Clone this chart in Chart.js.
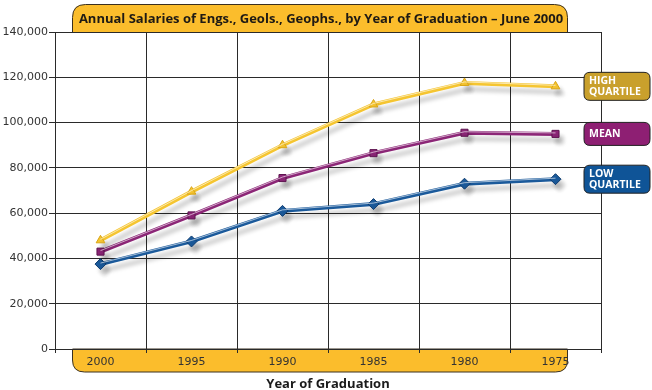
<!DOCTYPE html>
<html>
<head>
<meta charset="utf-8">
<script src="https://cdn.jsdelivr.net/npm/chart.js@4/dist/chart.umd.min.js"></script>
<style>
  html, body { margin: 0; padding: 0; background: #fff; }
  #wrap { width: 652px; height: 390px; position: relative; }
</style>
</head>
<body>
<div id="wrap"><canvas id="salaryChart" width="652" height="390"></canvas></div>
<script>
const chartTitle = 'Annual Salaries of Engs., Geols., Geophs., by Year of Graduation \u2013 June 2000';
const xTitle = 'Year of Graduation';
const years = ['2000', '1995', '1990', '1985', '1980', '1975'];
const highQuartile = [48000, 69500, 90000, 108000, 117500, 116000];
const mean = [43000, 59000, 75500, 86500, 95500, 95000];
const lowQuartile = [37500, 47500, 61000, 64000, 73000, 75000];
const seriesNames = [['HIGH', 'QUARTILE'], ['MEAN'], ['LOW', 'QUARTILE']];

const yellow = '#fbbd2c';
const lineColors = ['#f5c531', '#8c2677', '#1b5a9b'];
const boxColors = ['#c9a02c', '#8e1f73', '#0f5497'];

function roundedPath(ctx, x, y, w, h, r) {
  // r = [tl, tr, br, bl]
  ctx.beginPath();
  ctx.moveTo(x + r[0], y);
  ctx.lineTo(x + w - r[1], y);
  ctx.quadraticCurveTo(x + w, y, x + w, y + r[1]);
  ctx.lineTo(x + w, y + h - r[2]);
  ctx.quadraticCurveTo(x + w, y + h, x + w - r[2], y + h);
  ctx.lineTo(x + r[3], y + h);
  ctx.quadraticCurveTo(x, y + h, x, y + h - r[3]);
  ctx.lineTo(x, y + r[0]);
  ctx.quadraticCurveTo(x, y, x + r[0], y);
  ctx.closePath();
}

// title banner and year band behind the chart
const decorPlugin = {
  id: 'decor',
  beforeDraw(chart) {
    const ctx = chart.ctx;
    const a = chart.chartArea;
    ctx.save();
    ctx.fillStyle = yellow;
    ctx.strokeStyle = '#3a3020';
    ctx.lineWidth = 1;
    roundedPath(ctx, 72.5, 4.5, 495, a.top - 4, [13, 13, 0, 0]);
    ctx.fill();
    ctx.stroke();
    roundedPath(ctx, 72.5, a.bottom, 495, 23, [0, 0, 12, 12]);
    ctx.fill();
    ctx.stroke();
    ctx.fillStyle = '#1e1a14';
    ctx.font = 'bold 13px "Open Sans"';
    ctx.textAlign = 'center';
    ctx.textBaseline = 'middle';
    ctx.fillText(chartTitle, 321, 19);
    ctx.restore();
  },
  beforeDatasetDraw(chart) {
    const ctx = chart.ctx;
    ctx.save();
    ctx.shadowColor = 'rgba(0,0,0,0.22)';
    ctx.shadowOffsetX = 4;
    ctx.shadowOffsetY = 6;
    ctx.shadowBlur = 4;
  },
  afterDatasetDraw(chart) {
    chart.ctx.restore();
  },
  afterDatasetsDraw(chart) {
    const ctx = chart.ctx;
    ctx.save();
    ctx.strokeStyle = 'rgba(255,255,255,0.6)';
    ctx.lineWidth = 1;
    chart.data.datasets.forEach((ds, i) => {
      const pts = chart.getDatasetMeta(i).data;
      ctx.beginPath();
      pts.forEach((p, j) => {
        if (j === 0) ctx.moveTo(p.x, p.y - 1);
        else ctx.lineTo(p.x, p.y - 1);
      });
      ctx.stroke();
    });
    ctx.restore();
  },
  afterDraw(chart) {
    const ctx = chart.ctx;
    const y = chart.scales.y;
    ctx.save();
    chart.data.datasets.forEach((ds, i) => {
      const cy = y.getPixelForValue(ds.data[ds.data.length - 1]);
      const lines = seriesNames[i];
      const h = lines.length > 1 ? 28 : 23;
      const x0 = 584, w = 66;
      roundedPath(ctx, x0, cy - h / 2, w, h, [6, 6, 6, 6]);
      ctx.fillStyle = boxColors[i];
      ctx.fill();
      ctx.strokeStyle = '#222';
      ctx.lineWidth = 1;
      ctx.stroke();
      ctx.fillStyle = '#fff';
      ctx.font = 'bold 10.5px "Open Sans"';
      ctx.textAlign = 'left';
      ctx.textBaseline = 'middle';
      lines.forEach((t, k) => {
        ctx.fillText(t, x0 + 5, cy + (k - (lines.length - 1) / 2) * 11);
      });
    });
    ctx.restore();
  }
};

new Chart(document.getElementById('salaryChart'), {
  type: 'line',
  data: {
    labels: years,
    datasets: [
      { label: 'High Quartile', data: highQuartile, borderColor: lineColors[0], backgroundColor: lineColors[0],
        pointStyle: 'triangle', pointRadius: 5, pointBorderColor: '#d9a516' },
      { label: 'Mean', data: mean, borderColor: lineColors[1], backgroundColor: lineColors[1],
        pointStyle: 'rect', pointRadius: 5, pointBorderColor: '#5e1450' },
      { label: 'Low Quartile', data: lowQuartile, borderColor: lineColors[2], backgroundColor: lineColors[2],
        pointStyle: 'rectRot', pointRadius: 5.5, pointBorderColor: '#0c3a6e' }
    ].map(d => Object.assign(d, { borderWidth: 4, tension: 0, pointBorderWidth: 1 }))
  },
  options: {
    responsive: false,
    animation: false,
    layout: { padding: { top: 32, right: 51, left: 0, bottom: 0 } },
    plugins: { legend: { display: false }, title: { display: false }, tooltip: { enabled: false } },
    scales: {
      x: {
        offset: true,
        grid: { color: '#2a2a2a', lineWidth: 1, tickLength: 4, offset: true },
        border: { color: '#2a2a2a', width: 1 },
        ticks: { color: '#333', font: { family: 'DejaVu Sans', size: 11 }, padding: 3 },
        title: { display: true, text: xTitle, color: '#1a1a1a',
                 font: { family: 'Open Sans', size: 13, weight: 'bold' }, padding: { top: 0, bottom: -2 } },
        afterFit(scale) { scale.height = 41; }
      },
      y: {
        min: 0, max: 140000,
        grid: { color: '#2a2a2a', lineWidth: 1, tickLength: 6 },
        border: { color: '#2a2a2a', width: 1 },
        ticks: {
          stepSize: 20000, color: '#333', padding: 1,
          font: { family: 'DejaVu Sans', size: 11 },
          callback: v => v.toLocaleString('en-US')
        },
        afterFit(scale) { scale.width = 55; }
      }
    }
  },
  plugins: [decorPlugin]
});
</script>
</body>
</html>
